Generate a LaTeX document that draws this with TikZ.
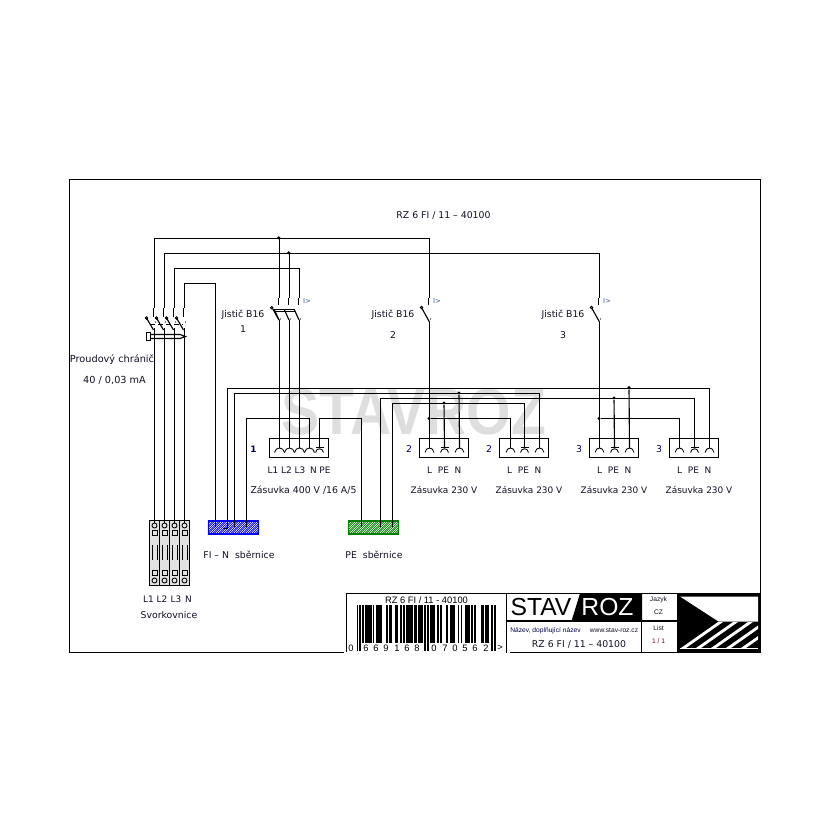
\documentclass[tikz,border=0pt]{standalone}
\usepackage{fontspec}
\setmainfont{DejaVu Sans}
\newfontfamily\arl{Liberation Sans}
\definecolor{lblc}{HTML}{101024}
\definecolor{wmc}{HTML}{DEDEDE}
\definecolor{ovc}{HTML}{3F5C90}
\definecolor{termc}{HTML}{E2E2E2}
\tikzset{
  wire/.style={line width=0.85pt,line cap=butt,line join=miter,draw=black},
  thin wire/.style={line width=0.65pt,draw=black},
  lbl/.style={font=\fontsize{7}{8}\selectfont,inner sep=0pt,text=lblc},
  lblz/.style={font=\fontsize{6.7}{8}\selectfont,inner sep=0pt,text=lblc},
  overl/.style={font=\fontsize{5.2}{6}\selectfont,inner sep=0pt,text=ovc},
  sock/.style={draw=black,line width=0.85pt,fill=none,inner sep=0pt,minimum height=14.25pt},
  jdot/.style={circle,fill=black,inner sep=0pt,minimum size=2.6pt},
  termcell/.style={draw=black,line width=0.85pt,fill=termc,inner sep=0pt,minimum width=7.5pt,minimum height=48.75pt},
  bar/.style={fill=black},
  busbox/.style={draw=#1,line width=0.9pt,inner sep=0pt,minimum width=37.5pt,minimum height=9.75pt},
  small/.style={font=\arl\fontsize{5}{6}\selectfont,inner sep=0pt,text=lblc},
}
\newcommand{\pinarc}[2]{\draw[thin wire] ({#1-#2},452.5) .. controls +(1,-6) and +(-1,-6) .. ({#1+#2},452.5);}
\newcommand{\pinbar}[1]{\draw[wire] ({#1-4},447.5) -- ({#1+4},447.5); \draw[thin wire] ({#1-4},452.5) .. controls +(1,-5) and +(-1,-5) .. ({#1+4},452.5);}
\newcommand{\hatchbus}[3]{%
  \begin{scope}
  \clip (#1.south west) rectangle (#1.north east);
  \foreach \d in {-16,-14,...,52}{\draw[#3,line width=0.42pt] (#2+\d,521)--+(14,14);}
  \foreach \d in {0,3,...,70}{\draw[#3,line width=0.22pt] (#2+\d,521)--+(-14,14);}
  \end{scope}}
\begin{document}
\begin{tikzpicture}[x=0.75pt,y=-0.75pt]
\useasboundingbox (0,0) rectangle (830,830);
\fill[white] (0,0) rectangle (830,830);
% watermark
\node[inner sep=0pt,text=wmc,font=\arl\bfseries\fontsize{49}{50}\selectfont,xscale=0.875,transform shape] (wm) at (414,412) {STAVROZ};
% frame
\coordinate (fTL) at (69.5,179.5); \coordinate (fTR) at (760.5,179.5);
\coordinate (fBL) at (69.5,652.5); \coordinate (fBR) at (760.5,652.5);
\coordinate (fB1) at (344,652.5); \coordinate (fB2) at (510,652.5);
\draw[wire] (fB1) -- (fBL) -- (fTL) -- (fTR) -- (fBR) -- (fB2);
% title
\node[lbl] (title) at (443.5,215) {RZ 6 FI / 11 – 40100};
% terminal block
\foreach \i/\x in {1/154.5,2/164.5,3/174.5,4/184.5}{
  \node[termcell] (t\i) at (\x,553) {};
  \draw[thin wire] (\x,525.5) circle (2.5);
  \draw[thin wire] (\x,580.5) circle (2.5);
  \draw[thin wire] (\x-2.5,530.5) rectangle (\x+2.5,535.5);
  \draw[thin wire] (\x-2.5,570.5) rectangle (\x+2.5,575.5);
  \draw[thin wire] (\x-2.5,545) -- (\x-2.5,560);
  \draw[thin wire] (\x+2.5,545) -- (\x+2.5,560);
  \coordinate (rb\i) at (\x,328);
  \coordinate (rt\i) at (\x,308);
  \coordinate (tt\i) at (\x,523);
  \draw[wire] (rb\i) -- (tt\i);
  % RCD pole
  \draw[wire] (\x-1,308) -- (\x-1,317);
  \draw[wire] (\x-8,318) -- (\x-1,330);
  \draw[thin wire] (\x-8,318) circle (1.2);
  \fill (\x+1,322) circle (0.6);
}
\draw[wire,dash pattern=on 4pt off 2pt] (150,324.5) -- (183,324.5);
\draw[wire] (151,334.5) -- (180,334.5) .. controls (183,335) .. (185.5,336.5) .. controls (183,338) .. (180,338.5) -- (151,338.5);
\draw[wire,fill=white] (146.5,332.5) rectangle (150.5,340.5);
% rails
\coordinate (r1) at (429.5,238.5);
\coordinate (r2) at (599.5,253.5);
\coordinate (r3) at (299.5,268.5);
\coordinate (r4) at (215.5,283.5);
\coordinate (bf1) at (215.5,527);
\coordinate (bf2) at (227.5,528.5);
\coordinate (bf2j) at (222.5,528.5);
\coordinate (bf3) at (234.5,527);
\coordinate (bf4) at (246.5,527);
\coordinate (bp1) at (361.5,527);
\coordinate (bp2) at (380.5,527);
\coordinate (bp3) at (392.5,527);
% busbars
\node[busbox=blue] (busN) at (233.5,527.5) {};
\node[busbox=green!50!black] (busPE) at (373.5,527.5) {};
\hatchbus{busN}{208}{blue}
\hatchbus{busPE}{348}{green!50!black}
% sockets
\node[sock,minimum width=44.25pt] (s1) at (299,448) {};
\node[sock,minimum width=36.75pt] (s2) at (444,448) {};
\node[sock,minimum width=36.75pt] (s3) at (524,448) {};
\node[sock,minimum width=36.75pt] (s4) at (614,448) {};
\node[sock,minimum width=36.75pt] (s5) at (694,448) {};
\foreach \x in {279.5,289.5,299.5,309.5}{\pinarc{\x}{5}}
\pinbar{319.5}
\foreach \x in {429.5,459.5,510.5,539.5,599.5,629.5,679.5,709.5}{\pinarc{\x}{4.5}}
\foreach \x in {444.5,524.5,614.5,694.5}{\pinbar{\x}}
\foreach \n/\x in {m1/279.5,m2/289.5,m3/299.5,m4/309.5,m5/319.5,
  a1/429.5,a2/444.5,a3/459.5,b1/510.5,b2/524.5,b3/539.5,c1/599.5,c2/614.5,c3/629.5,d1/679.5,d2/694.5,d3/709.5}{
  \coordinate (\n) at (\x,448);
}
% upper rails from RCD
\draw[wire] (rt1) |- (r1) -- (429.5,298);
\draw[wire] (rt2) |- (r2) -- (599.5,298);
\draw[wire] (rt3) |- (r3) -- (299.5,298);
\draw[wire] (rt4) |- (r4) -- (bf1);
% MCB feeds
\node[jdot] (j1) at (278.8,237.8) {};
\node[jdot] (j2) at (288.8,252.8) {};
\draw[wire] (279.5,238) -- (279.5,298);
\draw[wire] (289.5,253) -- (289.5,298);
% MCB 1
\foreach \x in {279.5,289.5,299.5}{
  \draw[wire] (\x-1,298) -- (\x-1,305);
  \draw[wire] (\x-5,310) -- (\x-0.5,320);
  \fill (\x+1,319) circle (0.6);
}
\draw[thin wire] (271.7,307.7) circle (1.2);
\draw[wire] (273,309.5) -- (295,309.5);
\draw[wire] (275,311.5) -- (295,311.5);
\draw[wire] (272.5,308.5) -- (279,320);
% MCB 2,3
\foreach \x in {429.5,599.5}{
  \draw[wire] (\x-1,298) -- (\x-1,305);
  \draw[thin wire] (\x-8,307.5) circle (1.2);
  \draw[wire] (\x-7.5,308.5) -- (\x,322);
  \fill (\x+1,319) circle (0.6);
}
% to sockets
\draw[wire] (279.5,320) -- (m1);
\draw[wire] (289.5,320) -- (m2);
\draw[wire] (299.5,320) -- (m3);
\draw[wire] (m4) -- (309.5,418.5) -- (246.5,418.5) -- (bf4);
\draw[wire] (m5) -- (319.5,418.5) -- (361.5,418.5) -- (bp1);
\draw[wire] (bf2j) -- (bf2) -- (227.5,388.5) -- (709.5,388.5) -- (d3);
\draw[wire] (bf3) -- (234.5,393.5) -- (539.5,393.5) -- (b3);
\draw[wire] (bp2) -- (380.5,398.5) -- (694.5,398.5) -- (d2);
\draw[wire] (bp3) -- (392.5,403.5) -- (524.5,403.5) -- (b2);
\draw[wire] (429.5,322) -- (a1);
\draw[wire] (599.5,322) -- (c1);
\node[jdot] (j3) at (429,418.5) {};
\node[jdot] (j4) at (599,418.5) {};
\draw[wire] (j3) -- (510.5,418.5) -- (b1);
\draw[wire] (j4) -- (679.5,418.5) -- (d1);
\node[jdot] (j5) at (459,393) {};
\node[jdot] (j6) at (444,403) {};
\node[jdot] (j7) at (614,398) {};
\node[jdot] (j8) at (629,387.5) {};
\draw[wire] (j5) -- (a3);
\draw[wire] (j6) -- (a2);
\draw[wire] (j7) -- (c2);
\draw[wire] (j8) -- (c3);
% labels
\node[lbl] (lj1) at (243,314.5) {Jistič B16};
\node[lbl] (ln1) at (243,329.5) {1};
\node[lbl] (lj2) at (393,314.5) {Jistič B16};
\node[lbl] (ln2) at (393,335) {2};
\node[lbl] (lj3) at (563,314.5) {Jistič B16};
\node[lbl] (ln3) at (563,335) {3};
\node[overl] (ov1) at (307,300.5) {I>};
\node[overl] (ov2) at (437,300.5) {I>};
\node[overl] (ov3) at (607,300.5) {I>};
\node[lbl,font=\fontsize{7.3}{8}\selectfont] (lp1) at (112,360) {Proudový chránič};
\node[lbl,font=\fontsize{7.3}{8}\selectfont] (lp2) at (114.5,380) {40 / 0,03 mA};
\node[lbl,font=\bfseries\fontsize{6.6}{8}\selectfont,text=blue!40!black] (n1) at (253.5,449.5) {1};
\node[lbl,text=blue!40!black] (n2) at (409,449.5) {2};
\node[lbl,text=blue!40!black] (n3) at (489,449.5) {2};
\node[lbl,text=blue!40!black] (n4) at (579,449.5) {3};
\node[lbl,text=blue!40!black] (n5) at (659,449.5) {3};
\foreach \n/\x/\t in {a/273/L1,b/286.5/L2,c/300/L3,d/313.5/N,e/325/PE}{
  \node[lblz] (pl\n) at (\x,470) {\t};
}
\foreach \n/\a in {f/429.5,g/509.5,h/599.5,i/679.5}{
  \node[lblz] (pL\n) at (\a,470) {L};
  \node[lblz] (pP\n) at (\a+14,470) {PE};
  \node[lblz] (pN\n) at (\a+28.5,470) {N};
}
\node[lbl] (z1) at (303.5,490) {Zásuvka 400 V /16 A/5};
\node[lblz] (z2) at (444,490) {Zásuvka 230 V};
\node[lblz] (z3) at (529,490) {Zásuvka 230 V};
\node[lblz] (z4) at (614,490) {Zásuvka 230 V};
\node[lblz] (z5) at (699,490) {Zásuvka 230 V};
\node[lbl] (lb1) at (239,554.5) {FI – N\ \ sběrnice};
\node[lbl] (lb2) at (374,554.5) {PE\ \ sběrnice};
\foreach \n/\x/\t in {1/148.5/L1,2/162/L2,3/176/L3,4/188.5/N}{
  \node[lblz] (tl\n) at (\x,599) {\t};
}
\node[lbl] (lsv) at (169,615) {Svorkovnice};
% title block
\fill[white] (344.5,593) rectangle (510,660);
\coordinate (tbTL) at (346.5,593.5); \coordinate (tbBL) at (346.5,652);
\coordinate (tbTR) at (677,593.5);
\draw[wire] (tbBL) -- (tbTL) -- (tbTR);
\draw[wire] (506.5,593.5) -- (506.5,652.5);
\draw[wire] (641.5,593.5) -- (641.5,652.5);
\draw[wire] (506.5,621) -- (641.5,621);
\draw[wire] (641.5,621) -- (677,621);
\draw[wire] (510,652.5) -- (760.5,652.5);
% barcode
\foreach \b [count=\i] in {1,0,1,
0,1,0,1,1,1,1, 0,1,0,1,1,1,1, 0,0,0,1,0,1,1, 0,0,1,1,0,0,1, 0,1,0,1,1,1,1, 0,1,1,0,1,1,1,
0,1,0,1,0,
1,1,1,0,0,1,0, 1,0,0,0,1,0,0, 1,1,1,0,0,1,0, 1,0,0,1,1,1,0, 1,0,1,0,0,0,0, 1,1,0,1,1,0,0,
1,0,1}{
  \ifnum\b=1
    \pgfmathsetmacro{\xa}{356.7+(\i-1)*1.465-0.2}
    \pgfmathsetmacro{\xb}{\xa+1.465+0.4}
    \pgfmathsetmacro{\yb}{(\i<4 || (\i>45 && \i<51) || \i>92) ? 651 : 643}
    \fill[bar] (\xa,605) rectangle (\xb,\yb);
  \fi
}
\node[inner sep=0pt,font=\arl\fontsize{7}{8}\selectfont,fill=none] (bct) at (426.5,600.5) {RZ 6 FI / 11 - 40100};
\foreach \n/\x/\t in {0/351/0,1/366/6,2/376/6,3/386/9,4/397/1,5/407/6,6/417/8,7/434/0,8/445/7,9/455/0,10/465/5,11/475/6,12/486/2,13/500/>}{
  \node[inner sep=0pt,font=\arl\fontsize{7}{8}\selectfont] (bd\n) at (\x,648) {\t};
}
% logo
\fill (580,593.5) -- (642,593.5) -- (642,621) -- (571.5,621) -- cycle;
\node[inner sep=0pt,font=\arl\fontsize{18.5}{20}\selectfont,anchor=center] (stav) at (541,607.5) {STAV};
\node[inner sep=0pt,font=\arl\fontsize{18.5}{20}\selectfont,text=white] (roz) at (607.5,607.5) {ROZ};
\node[small,text=blue!30!black] (nz) at (545.5,630.5) {Název, doplňující název};
\node[small] (web) at (614,630) {www.stav-roz.cz};
\node[lbl] (dn) at (579,644.5) {RZ 6 FI / 11 – 40100};
\node[small] (jz) at (658.5,600) {Jazyk};
\node[small] (cz) at (658.5,612) {CZ};
\node[small] (ls) at (658.5,628.5) {List};
\node[small,text=red!40!black] (pg) at (658.5,641.5) {1 / 1};
% flag
\fill (677,593) rectangle (761,652.5);
\fill[white] (680,596.5) -- (758,596.5) -- (758,621.5) -- (718.5,621.5) -- cycle;
\begin{scope}
\clip (680,622) rectangle (758,649);
\foreach \k in {0,...,4}{
  \fill[white] (681+15*\k,648) -- (686+15*\k,648) -- (723+15*\k,622) -- (718+15*\k,622) -- cycle;
}
\fill[white] (680,648) rectangle (758,649);
\end{scope}
\end{tikzpicture}
\end{document}
